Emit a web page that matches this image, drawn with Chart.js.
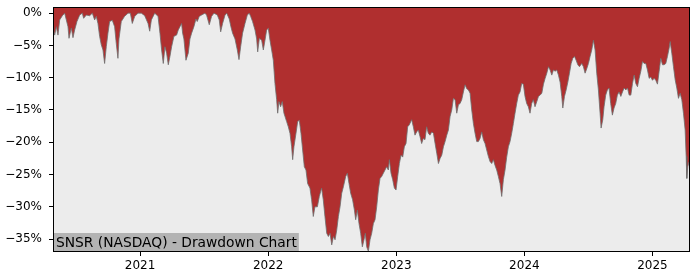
<!DOCTYPE html>
<html>
<head>
<meta charset="utf-8">
<script src="https://cdn.jsdelivr.net/npm/chart.js@4/dist/chart.umd.min.js"></script>
<style>
  html, body { margin: 0; padding: 0; background: #fff; }
  #wrap { width: 700px; height: 280px; position: relative; }
</style>
</head>
<body>
<div id="wrap"><canvas id="chart"></canvas></div>
<script>
// decimal year of each reading
const years = [
  2020.320, 2020.333, 2020.346, 2020.359, 2020.372, 2020.393, 2020.411, 2020.437, 2020.445, 2020.463,
  2020.476, 2020.489, 2020.507, 2020.528, 2020.549, 2020.559, 2020.580, 2020.606, 2020.627, 2020.645,
  2020.658, 2020.671, 2020.684, 2020.697, 2020.710, 2020.723, 2020.736, 2020.749, 2020.762, 2020.783,
  2020.801, 2020.814, 2020.827, 2020.835, 2020.853, 2020.879, 2020.906, 2020.924, 2020.939, 2020.958,
  2020.984, 2021.010, 2021.036, 2021.062, 2021.075, 2021.088, 2021.114, 2021.140,
  2021.155, 2021.168, 2021.181, 2021.194, 2021.207, 2021.220, 2021.233, 2021.246, 2021.264, 2021.285,
  2021.298, 2021.311, 2021.324, 2021.332, 2021.342, 2021.358, 2021.376, 2021.389, 2021.402, 2021.420,
  2021.436, 2021.446, 2021.462, 2021.480, 2021.506, 2021.519, 2021.540, 2021.558, 2021.577, 2021.603,
  2021.618, 2021.629, 2021.644, 2021.663, 2021.676, 2021.696, 2021.709, 2021.722, 2021.741, 2021.759,
  2021.772, 2021.785, 2021.800, 2021.819, 2021.837, 2021.852, 2021.863, 2021.878, 2021.897, 2021.910,
  2021.918, 2021.931,
  2021.949, 2021.962, 2021.975, 2021.988, 2022.001, 2022.014, 2022.027, 2022.040, 2022.053, 2022.066,
  2022.074, 2022.084, 2022.097, 2022.110, 2022.123, 2022.144, 2022.157, 2022.170, 2022.183, 2022.191,
  2022.201, 2022.217, 2022.230, 2022.243, 2022.256, 2022.269, 2022.282, 2022.295, 2022.308, 2022.326,
  2022.339, 2022.352, 2022.365, 2022.384, 2022.399, 2022.417, 2022.430, 2022.443, 2022.457, 2022.470,
  2022.483, 2022.496, 2022.509, 2022.522, 2022.535, 2022.548, 2022.561, 2022.574, 2022.587, 2022.605,
  2022.618, 2022.631, 2022.644, 2022.659, 2022.673, 2022.683, 2022.696, 2022.709, 2022.722, 2022.735,
  2022.748, 2022.758, 2022.769, 2022.782,
  2022.795, 2022.808, 2022.821, 2022.834, 2022.847, 2022.860, 2022.873, 2022.886, 2022.899, 2022.912,
  2022.925, 2022.938, 2022.946, 2022.959, 2022.972, 2022.985, 2022.998, 2023.011, 2023.024, 2023.037,
  2023.050, 2023.063, 2023.076, 2023.089, 2023.102, 2023.120, 2023.133, 2023.146, 2023.159, 2023.172,
  2023.185, 2023.198, 2023.211, 2023.224, 2023.237, 2023.250, 2023.263, 2023.277, 2023.290, 2023.303,
  2023.316, 2023.329, 2023.342, 2023.355, 2023.368, 2023.381, 2023.394, 2023.407, 2023.420, 2023.433,
  2023.446, 2023.459, 2023.472, 2023.485, 2023.498, 2023.511, 2023.524, 2023.537, 2023.550, 2023.563,
  2023.576,
  2023.589, 2023.602, 2023.615, 2023.628, 2023.641, 2023.654, 2023.667, 2023.680, 2023.693, 2023.706,
  2023.719, 2023.732, 2023.745, 2023.758, 2023.771, 2023.784, 2023.797, 2023.810, 2023.823, 2023.836,
  2023.849, 2023.862, 2023.875, 2023.888, 2023.901, 2023.914, 2023.927, 2023.940, 2023.953, 2023.966,
  2023.979, 2023.992, 2024.005, 2024.018, 2024.031, 2024.044, 2024.057, 2024.070, 2024.083, 2024.097,
  2024.110, 2024.123, 2024.136, 2024.149, 2024.162, 2024.175, 2024.188, 2024.201, 2024.214, 2024.227,
  2024.240, 2024.253, 2024.266, 2024.279, 2024.292, 2024.300, 2024.313, 2024.326, 2024.339, 2024.352,
  2024.365, 2024.378, 2024.391, 2024.404, 2024.417, 2024.430,
  2024.448, 2024.461, 2024.474, 2024.487, 2024.500, 2024.513, 2024.526, 2024.539, 2024.552, 2024.565,
  2024.578, 2024.591, 2024.599, 2024.612, 2024.622, 2024.635, 2024.648, 2024.661, 2024.674, 2024.687,
  2024.700, 2024.713, 2024.726, 2024.739, 2024.753, 2024.766, 2024.779, 2024.792, 2024.805, 2024.818,
  2024.831, 2024.844, 2024.857, 2024.870, 2024.883, 2024.896, 2024.909, 2024.922, 2024.935, 2024.948,
  2024.961, 2024.974, 2024.987, 2025.000, 2025.013, 2025.026, 2025.039, 2025.052, 2025.065, 2025.078,
  2025.091, 2025.104, 2025.117, 2025.130, 2025.138, 2025.151, 2025.164, 2025.177, 2025.190, 2025.203,
  2025.216, 2025.229, 2025.242, 2025.255, 2025.263, 2025.268, 2025.276, 2025.286
];

// drawdown in percent
const drawdown = [
  -2.1, -3.4, -2.1, -3.4, -1.05, -0.4, 0, -2.1, -3.9, -2.3,
  -3.8, -2.6, -1.3, -0.3, 0, -0.8, -0.3, -0.4, 0, -1.05,
  -0.5, -1.6, -3.6, -4.9, -5.7, -7.8, -5.2, -3.1, -1.3, -1.1,
  -2.1, -4.7, -7.0, -4.0, -1.3, -0.5, 0, 0, -1.6, -0.5,
  0, 0, -0.4, -1.6, -2.8, -1.05, 0, -0.5,
  -3.1, -5.7, -7.8, -5.2, -6.2, -8.0, -6.7, -5.2, -3.6, -3.4,
  -2.6, -2.1, -1.6, -3.1, -4.0, -7.3, -6.2, -4.0, -3.1, -2.1,
  -0.9, -1.3, -0.5, -0.3, 0, -0.3, -1.8, -0.5, 0, -0.3,
  -1.05, -2.9, -1.6, -0.3, 0, -0.9, -2.1, -3.1, -4.0, -5.7,
  -7.2, -5.2, -3.1, -1.6, -0.3, 0, -0.5, -1.3, -2.6, -4.0,
  -6.0, -3.9,
  -4.2, -5.7, -4.2, -2.6, -2.35, -4.2, -5.7, -7.3, -10.9, -13.4,
  -15.5, -13.7, -14.5, -13.7, -15.5, -16.8, -17.6, -18.6, -20.7, -22.7,
  -20.7, -18.6, -16.8, -16.6, -18.6, -21.2, -23.8, -24.3, -26.4, -27.1,
  -28.9, -31.5, -30.0, -30.0, -28.4, -27.1, -28.9, -31.5, -34.1, -34.6,
  -34.1, -35.9, -34.6, -35.1, -33.6, -31.5, -30.0, -27.9, -26.9, -25.3,
  -24.8, -26.4, -27.9, -28.9, -30.5, -32.0, -30.5, -32.6, -34.1, -36.2,
  -35.1, -34.1, -36.2, -36.9,
  -35.1, -34.1, -32.6, -32.0, -30.0, -27.4, -25.6, -25.3, -24.8, -24.3,
  -23.8, -24.3, -22.7, -24.8, -25.8, -27.1, -27.4, -25.3, -23.3, -22.0,
  -22.3, -20.7, -20.2, -17.6, -17.3, -16.5, -17.6, -18.9, -18.4, -18.1,
  -19.1, -20.2, -19.4, -19.6, -17.6, -18.6, -18.9, -18.4, -18.6, -20.2,
  -21.7, -23.3, -22.5, -22.0, -20.7, -19.9, -18.9, -18.1, -16.0, -15.0,
  -13.2, -13.4, -15.5, -14.2, -14.0, -13.4, -12.2, -11.1, -11.7, -11.9,
  -12.4,
  -15.0, -17.1, -18.6, -19.9, -19.9, -19.4, -18.4, -19.6, -20.2, -21.2,
  -22.2, -23.0, -23.3, -22.7, -23.6, -24.3, -25.3, -26.4, -28.4, -25.8,
  -24.3, -22.3, -20.7, -19.9, -18.6, -17.1, -15.5, -14.0, -12.7, -12.2,
  -10.9, -11.0, -12.9, -14.0, -14.5, -15.5, -14.0, -13.4, -14.5, -13.7,
  -12.9, -12.7, -12.4, -11.0, -10.1, -9.3, -8.3, -8.8, -9.6, -8.8,
  -9.0, -8.8, -9.6, -10.7, -12.9, -14.7, -12.9, -11.9, -10.7, -9.3,
  -7.8, -7.0, -6.7, -7.3, -8.0, -8.3,
  -7.8, -8.3, -9.3, -8.6, -7.8, -6.7, -5.7, -4.2, -5.7, -9.3,
  -11.9, -15.5, -17.8, -16.5, -14.5, -12.7, -11.9, -11.6, -14.0, -15.8,
  -14.7, -14.0, -12.7, -12.2, -12.9, -12.2, -11.6, -11.9, -11.6, -12.7,
  -12.7, -10.9, -9.6, -10.9, -11.4, -10.1, -9.0, -7.5, -7.8, -7.8,
  -8.8, -10.1, -9.9, -10.4, -10.1, -10.4, -11.0, -9.0, -7.0, -8.0,
  -8.0, -7.8, -6.7, -5.45, -4.4, -6.2, -8.3, -10.3, -11.6, -13.2,
  -12.4, -13.4, -15.5, -18.1, -22.2, -25.6, -23.8, -23.0
];

const xTicks = [2021, 2022, 2023, 2024, 2025];
const yTicks = [-35, -30, -25, -20, -15, -10, -5, 0];
const title = "SNSR (NASDAQ) - Drawdown Chart";

const points = years.map((y, i) => ({ x: y, y: drawdown[i] }));

const plotBg = {
  id: "plotBg",
  beforeDraw(chart) {
    const { ctx, chartArea: a } = chart;
    ctx.save();
    ctx.fillStyle = "#ececec";
    ctx.fillRect(a.left, a.top, a.width, a.height);
    ctx.restore();
  }
};

const frame = {
  id: "frame",
  afterDraw(chart) {
    const { ctx, chartArea: a } = chart;
    // label box in the bottom left corner
    ctx.save();
    ctx.font = "13.8px 'DejaVu Sans'";
    const w = ctx.measureText(title).width;
    ctx.fillStyle = "#b3b3b3";
    ctx.fillRect(a.left, a.bottom - 19, w + 5, 19);
    ctx.fillStyle = "#000";
    ctx.textBaseline = "alphabetic";
    ctx.fillText(title, a.left + 3, a.bottom - 5);
    ctx.strokeStyle = "#000";
    ctx.lineWidth = 1;
    ctx.strokeRect(Math.round(a.left) + 0.5, Math.round(a.top) + 0.5,
                   Math.round(a.width) - 1, Math.round(a.height) - 1);
    ctx.restore();
  }
};

new Chart(document.getElementById("chart"), {
  type: "line",
  data: {
    datasets: [{
      data: points,
      fill: "end",
      backgroundColor: "#b02f2f",
      borderColor: "rgba(110,110,110,0.8)",
      borderWidth: 1,
      pointRadius: 0,
      tension: 0
    }]
  },
  options: {
    responsive: true,
    maintainAspectRatio: false,
    animation: false,
    layout: { padding: { top: 7, right: 10, left: 0, bottom: 0 } },
    plugins: { legend: { display: false }, tooltip: { enabled: false } },
    scales: {
      x: {
        type: "linear",
        min: 2020.320,
        max: 2025.293,
        afterBuildTicks: s => { s.ticks = xTicks.map(v => ({ value: v })); },
        afterFit: s => { s.height = 28; s.paddingLeft = 0; s.paddingRight = 0; },
        grid: { drawOnChartArea: false, drawTicks: true, tickLength: 4, color: "#000" },
        border: { display: false },
        ticks: {
          color: "#000",
          padding: 3,
          maxRotation: 0,
          font: { family: "DejaVu Sans", size: 12 },
          callback: v => String(v)
        }
      },
      y: {
        min: -37,
        max: 0.95,
        afterBuildTicks: s => { s.ticks = yTicks.map(v => ({ value: v })); },
        afterFit: s => { s.width = 53; s.paddingTop = 0; s.paddingBottom = 0; },
        grid: { drawOnChartArea: false, drawTicks: true, tickLength: 4, color: "#000" },
        border: { display: false },
        ticks: {
          color: "#000",
          padding: 7,
          font: { family: "DejaVu Sans", size: 12 },
          callback: v => v === 0 ? "0%" : "\u2212" + Math.abs(v) + "%"
        }
      }
    }
  },
  plugins: [plotBg, frame]
});
</script>
</body>
</html>
